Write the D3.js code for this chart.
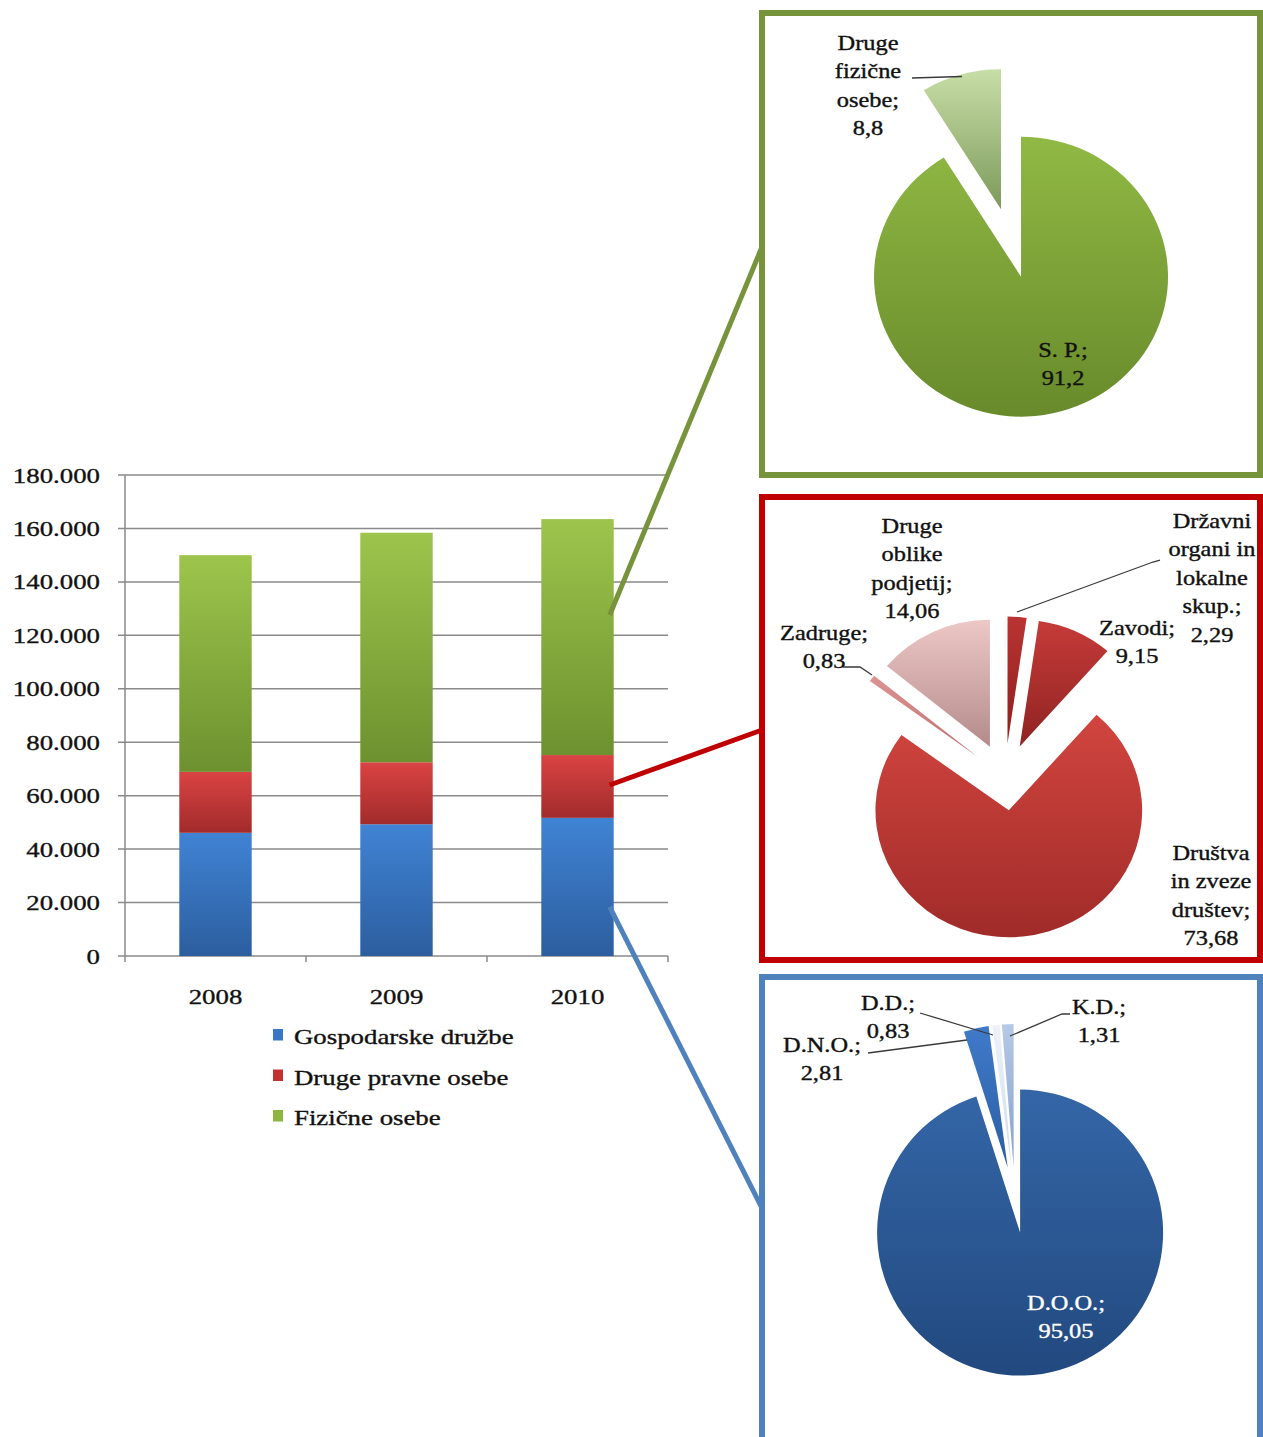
<!DOCTYPE html>
<html>
<head>
<meta charset="utf-8">
<script src="https://cdn.jsdelivr.net/npm/d3@7"></script>
<style>
  body { margin: 0; background: #fff; }
  text { font-family: "Liberation Serif", "Times New Roman", serif; }
</style>
</head>
<body>
<svg width="1263" height="1437"></svg>
<script>
// bar chart data
const years = ["2008", "2009", "2010"];
const seriesNames = ["Gospodarske družbe", "Druge pravne osebe", "Fizične osebe"];
const gospodarskeDruzbe = [46100, 49300, 51700];
const drugePravneOsebe = [22800, 23200, 23500];
const fizicneOsebe = [81100, 85900, 88300];
const yTicks = [0, 20000, 40000, 60000, 80000, 100000, 120000, 140000, 160000, 180000];

// pie data (shares in %)
const fizicneNames = ["S. P.", "Druge\nfizične\nosebe"];
const fizicneShares = [91.2, 8.8];
const pravneNames = ["Državni\norgani in\nlokalne\nskup.", "Zavodi", "Društva\nin zveze\ndruštev", "Zadruge", "Druge\noblike\npodjetij"];
const pravneShares = [2.29, 9.15, 73.68, 0.83, 14.06];
const druzbeNames = ["D.O.O.", "D.N.O.", "D.D.", "K.D."];
const druzbeShares = [95.05, 2.81, 0.83, 1.31];

const svg = d3.select("svg");
const defs = svg.append("defs");
const SX = 1.22; // text in the picture is stretched horizontally
const locale = d3.formatLocale({ decimal: ",", thousands: ".", grouping: [3], currency: ["", ""] });
const tickFmt = locale.format(",");
const pctFmt = locale.format("");

function gradient(id, top, bottom) {
  const lg = defs.append("linearGradient").attr("id", id)
    .attr("x1", 0).attr("y1", 0).attr("x2", 0).attr("y2", 1);
  lg.append("stop").attr("offset", "0%").attr("stop-color", top);
  lg.append("stop").attr("offset", "100%").attr("stop-color", bottom);
}

function label(g, x, y, lines, o = {}) {
  const fill = o.fill || "#111";
  const t = g.append("text")
    .attr("transform", `translate(${x},${y}) scale(${SX},1)`)
    .attr("text-anchor", o.anchor || "middle")
    .attr("font-size", o.size || 20)
    .attr("fill", fill)
    .attr("stroke", fill).attr("stroke-width", 0.35);
  lines.forEach((l, i) => t.append("tspan").attr("x", 0).attr("dy", i ? (o.lh || 28.4) : 0).text(l));
  return t;
}

// ---- stacked bars ----
const table = years.map((y, i) => ({ year: y, g: gospodarskeDruzbe[i], d: drugePravneOsebe[i], f: fizicneOsebe[i] }));
const keys = ["g", "d", "f"];
const stacked = d3.stack().keys(keys)(table);

const x = d3.scaleBand().domain(years).range([125, 668]).paddingInner(0.6).paddingOuter(0.3);
const y = d3.scaleLinear().domain([0, 180000]).range([956, 475]);

const barColors = [["#4083d4", "#2c5e9f"], ["#da4343", "#a22b2b"], ["#9dc54c", "#6d912f"]];
barColors.forEach((c, i) => gradient("bar" + i, c[0], c[1]));

const chart = svg.append("g");

chart.append("g").selectAll("line")
  .data(yTicks)
  .join("line")
  .attr("x1", 118).attr("x2", 668)
  .attr("y1", d => y(d)).attr("y2", d => y(d))
  .attr("stroke", "#8a8a8a").attr("stroke-width", 1.5);

chart.append("line")
  .attr("x1", 125).attr("x2", 125).attr("y1", y(180000)).attr("y2", y(0))
  .attr("stroke", "#8a8a8a").attr("stroke-width", 1.5);

const xEdges = years.map(d => x(d) - x.step() * x.paddingInner() / 2).concat([668]);
chart.append("g").selectAll("line")
  .data(xEdges)
  .join("line")
  .attr("x1", d => d).attr("x2", d => d)
  .attr("y1", y(0)).attr("y2", y(0) + 6)
  .attr("stroke", "#8a8a8a").attr("stroke-width", 1.5);

yTicks.forEach(v => label(chart, 100, y(v) + 7.5, [tickFmt(v)], { anchor: "end", size: 22 }));
years.forEach(v => label(chart, x(v) + x.bandwidth() / 2, 1004, [v], { size: 22 }));

stacked.forEach((s, i) => {
  chart.append("g").selectAll("rect")
    .data(s)
    .join("rect")
    .attr("x", d => x(d.data.year))
    .attr("width", x.bandwidth())
    .attr("y", d => y(d[1]))
    .attr("height", d => y(d[0]) - y(d[1]))
    .attr("fill", `url(#bar${i})`);
});

// legend
const legendColors = ["#3a76c6", "#c23232", "#8db53f"];
seriesNames.forEach((n, i) => {
  const ly = 1044 + i * 40.5;
  chart.append("rect").attr("x", 273).attr("y", ly - 15).attr("width", 10).attr("height", 11.5)
    .attr("fill", legendColors[i]);
  label(chart, 294, ly, [n], { anchor: "start", size: 22 });
});

// ---- panels ----
const panels = [
  { x: 762, y: 13, w: 498, h: 462, color: "#77933c", from: 127600, toY: 247 },
  { x: 762, y: 497, w: 498, h: 463, color: "#c00000", from: 64000, toY: 730 },
  { x: 762, y: 977, w: 498, h: 520, color: "#4f81bd", from: 18400, toY: 1208 }
];

panels.forEach(p => {
  svg.append("line")
    .attr("x1", x("2010") + x.bandwidth() - 4).attr("y1", y(p.from))
    .attr("x2", p.x).attr("y2", p.toY)
    .attr("stroke", p.color).attr("stroke-width", 5);
  svg.append("rect")
    .attr("x", p.x).attr("y", p.y).attr("width", p.w).attr("height", p.h)
    .attr("fill", "none").attr("stroke", p.color).attr("stroke-width", 6);
});

// ---- pies ----
const pies = [
  {
    id: "fiz", names: fizicneNames, shares: fizicneShares,
    cx: 1011, cy: 243, r: 140, sx: 1.05, explode: 35,
    colors: [["#90b944", "#688a2b"], ["#c8dea8", "#7c9a5a"]],
    labels: [[1063, 357, "#111"], [868, 50, "#111"]],
    leaders: [null, [[912, 78], [962, 76.5]]]
  },
  {
    id: "prav", names: pravneNames, shares: pravneShares,
    cx: 1005, cy: 777, r: 127, sx: 1.05, explode: 33.5,
    colors: [["#b93432", "#8c1f1e"], ["#c63b39", "#8e2321"], ["#d2453f", "#a02b29"], ["#dc9391", "#c07070"], ["#edc8c7", "#b48b8b"]],
    labels: [[1212, 528, "#111"], [1137, 634.5, "#111"], [1211, 860, "#111"], [824, 640, "#111"], [912, 533, "#111"]],
    leaders: [[[1017, 612], [1153, 562], [1160, 560]], null, null, [[843, 667], [860, 667], [872, 675]], null]
  },
  {
    id: "druz", names: druzbeNames, shares: druzbeShares,
    cx: 1015, cy: 1200, r: 143, sx: 1, explode: 33,
    colors: [["#3466a7", "#22497f"], ["#3f7ac9", "#2b5ea3"], ["#edf2f9", "#cfdcee"], ["#b6cae6", "#869fcb"]],
    labels: [[1066, 1310, "#fff"], [822, 1052, "#111"], [888, 1010, "#111"], [1099, 1013.5, "#111"]],
    leaders: [null, [[868, 1053], [967, 1040]], [[920, 1013], [993, 1035]], [[1070, 1014], [1062, 1014], [1010, 1036]]]
  }
];

pies.forEach(p => {
  p.colors.forEach((c, i) => gradient(`${p.id}${i}`, c[0], c[1]));
  const arcs = d3.pie().sort(null).value(d => d)(p.shares);
  const arc = d3.arc().innerRadius(0).outerRadius(p.r);
  const g = svg.append("g").attr("transform", `translate(${p.cx},${p.cy}) scale(${p.sx},1)`);
  g.selectAll("path")
    .data(arcs)
    .join("path")
    .attr("transform", d => {
      const a = (d.startAngle + d.endAngle) / 2;
      return `translate(${Math.sin(a) * p.explode},${-Math.cos(a) * p.explode})`;
    })
    .attr("d", arc)
    .attr("fill", (d, i) => `url(#${p.id}${i})`);

  const line = d3.line();
  p.leaders.forEach(l => {
    if (!l) return;
    svg.append("path").attr("d", line(l)).attr("fill", "none")
      .attr("stroke", "#3a3a3a").attr("stroke-width", 1.3);
  });

  p.names.forEach((n, i) => {
    const lines = (n + ";").split("\n").concat([pctFmt(p.shares[i])]);
    const [lx, ly, fill] = p.labels[i];
    label(svg, lx, ly, lines, { fill });
  });
});
</script>
</body>
</html>
